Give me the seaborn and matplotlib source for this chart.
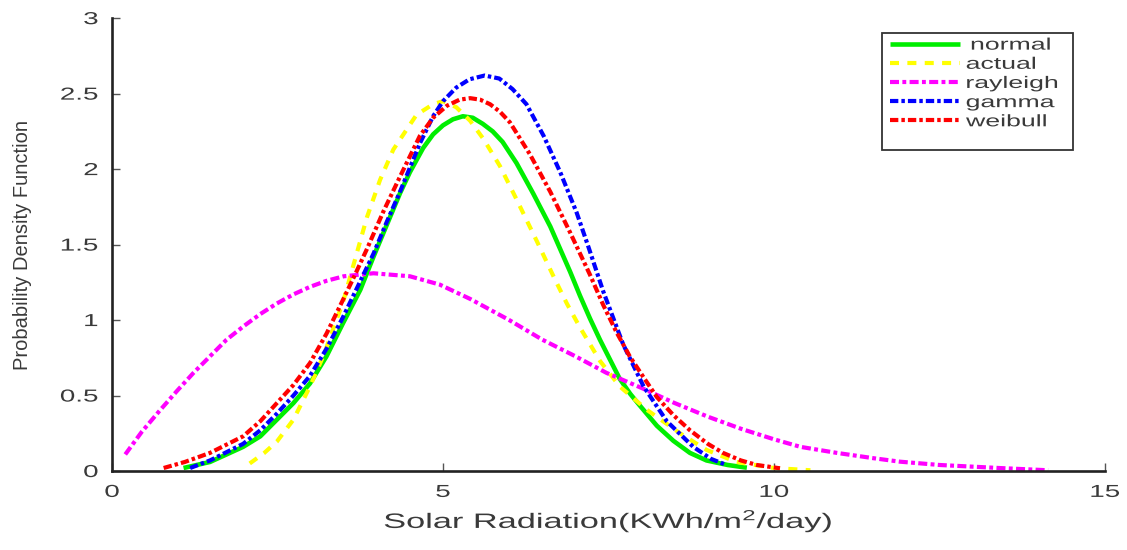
import numpy as np
import pandas as pd
import matplotlib
matplotlib.use("Agg")
import matplotlib.pyplot as plt
import seaborn as sns
from matplotlib.patheffects import AbstractPathEffect
from matplotlib.transforms import Affine2D
from matplotlib.patches import Rectangle

# ---------------- data ----------------
normal_x = [1.08, 1.48, 1.98, 2.24, 2.49, 2.74, 2.99, 3.24, 3.49, 3.75, 3.95, 4.15, 4.35,
            4.5, 4.7, 4.85, 5.0, 5.15, 5.3, 5.45, 5.6, 5.75, 5.9, 6.11, 6.36, 6.62, 6.92,
            7.07, 7.22, 7.37, 7.52, 7.67, 7.83, 7.98, 8.23, 8.48, 8.73, 8.98, 9.3, 9.59]
normal_y = [0.02, 0.06, 0.16, 0.23, 0.34, 0.45, 0.58, 0.76, 0.98, 1.20, 1.42, 1.63, 1.84,
            1.98, 2.14, 2.23, 2.29, 2.33, 2.35, 2.34, 2.30, 2.25, 2.18, 2.04, 1.84, 1.62, 1.32,
            1.16, 1.01, 0.87, 0.74, 0.61, 0.51, 0.43, 0.30, 0.20, 0.12, 0.07, 0.04, 0.022]

actual_x = [2.08, 2.3, 2.49, 2.74, 2.99, 3.19, 3.49, 3.67, 3.85, 4.05, 4.25, 4.6, 4.85, 5.0,
            5.2, 5.41, 5.61, 5.86, 6.11, 6.42, 6.69, 6.87, 7.07, 7.37, 7.67, 8.08, 8.58,
            8.98, 9.43, 10.0, 10.55]
actual_y = [0.05, 0.12, 0.195, 0.34, 0.56, 0.76, 1.12, 1.40, 1.68, 1.93, 2.13, 2.36, 2.43, 2.45,
            2.41, 2.32, 2.20, 2.02, 1.80, 1.52, 1.27, 1.11, 0.95, 0.73, 0.56, 0.405, 0.25,
            0.14, 0.06, 0.02, 0.005]

rayleigh_x = [0.2, 0.45, 0.72, 0.98, 1.23, 1.48, 1.73, 1.99, 2.24, 2.49, 2.74, 2.99, 3.24,
              3.5, 3.95, 4.5, 4.95, 5.41, 6.0, 6.5, 7.0, 7.47, 8.0, 8.5, 9.0, 9.5, 10.0,
              10.4, 10.95, 11.5, 11.9, 12.5, 13.4, 14.14]
rayleigh_y = [0.11, 0.26, 0.40, 0.53, 0.65, 0.76, 0.87, 0.96, 1.04, 1.11, 1.17, 1.22, 1.26,
              1.29, 1.31, 1.29, 1.235, 1.14, 1.0, 0.87, 0.76, 0.65, 0.55, 0.45, 0.36, 0.28,
              0.21, 0.16, 0.12, 0.085, 0.062, 0.04, 0.02, 0.005]

gamma_x = [1.18, 1.48, 1.98, 2.24, 2.49, 2.74, 2.99, 3.24, 3.49, 3.72, 3.95, 4.15, 4.35,
           4.65, 4.85, 5.0, 5.2, 5.4, 5.63, 5.85, 6.05, 6.26, 6.52, 6.77, 7.02, 7.2, 7.42,
           7.72, 8.03, 8.38, 8.78, 9.05, 9.28]
gamma_y = [0.02, 0.07, 0.18, 0.27, 0.38, 0.50, 0.63, 0.81, 1.02, 1.23, 1.44, 1.65, 1.85,
           2.17, 2.35, 2.45, 2.54, 2.595, 2.62, 2.60, 2.53, 2.43, 2.22, 1.98, 1.71, 1.48, 1.19,
           0.84, 0.56, 0.33, 0.16, 0.08, 0.04]

weibull_x = [0.78, 1.1, 1.48, 1.98, 2.24, 2.49, 2.74, 2.99, 3.24, 3.49, 3.67, 3.85, 4.1,
             4.35, 4.65, 4.85, 5.06, 5.25, 5.41, 5.56, 5.71, 5.86, 6.01, 6.31, 6.62, 6.92,
             7.22, 7.42, 7.62, 7.82, 8.03, 8.23, 8.48, 8.73, 9.0, 9.23, 9.5, 9.74, 10.09]
weibull_y = [0.02, 0.06, 0.12, 0.23, 0.33, 0.45, 0.57, 0.715, 0.91, 1.135, 1.30, 1.47, 1.72,
             1.95, 2.22, 2.34, 2.42, 2.46, 2.47, 2.46, 2.43, 2.38, 2.31, 2.10, 1.85, 1.58,
             1.30, 1.10, 0.92, 0.76, 0.62, 0.49, 0.37, 0.27, 0.18, 0.12, 0.07, 0.04, 0.018]

series_names = [" normal", "actual", "rayleigh", "gamma", "weibull"]
x_ticks = [0, 5, 10, 15]
y_ticks = [0, 0.5, 1, 1.5, 2, 2.5, 3]
y_tick_labels = ["0", "0.5", "1", "1.5", "2", "2.5", "3"]
x_label = "Solar Radiation(KWh/m$^2$/day)"
y_label = "Probability Density Function"

# ---------------- style ----------------
sns.set_style("ticks")
plt.rcParams["font.family"] = ["Liberation Sans", "DejaVu Sans"]
plt.rcParams["mathtext.default"] = "regular"
plt.rcParams["lines.scale_dashes"] = False

TEXT_COLOR = "#3a3a3a"
STRETCH = 1.6


class HStretch(AbstractPathEffect):
    """Stretch glyphs horizontally in display space (reference text is wide)."""

    def __init__(self, sx, anchor="center"):
        super().__init__()
        self.sx = sx
        self.anchor = anchor

    def draw_path(self, renderer, gc, tpath, affine, rgbFace=None):
        bb = tpath.get_extents(affine)
        if self.anchor == "left":
            cx = bb.x0
        elif self.anchor == "right":
            cx = bb.x1
        else:
            cx = 0.5 * (bb.x0 + bb.x1)
        extra = Affine2D().translate(-cx, 0).scale(self.sx, 1.0).translate(cx, 0)
        renderer.draw_path(gc, tpath, affine + extra, rgbFace)


fig = plt.figure(figsize=(11.27, 5.5), dpi=100)
ax = fig.add_axes([0.0994, 0.1436, 0.8811, 0.8234])

specs = [
    (normal_x, normal_y, "#00ee00", 3.3, None),
    (actual_x, actual_y, "#ffff00", 3.0, (6.5, 6.0)),
    (rayleigh_x, rayleigh_y, "#ff00ff", 3.0, (6.5, 2.4, 2.8, 2.4)),
    (gamma_x, gamma_y, "#0000ff", 3.0, (6.0, 2.2, 2.5, 2.2)),
    (weibull_x, weibull_y, "#ff0000", 3.0, (6.0, 2.2, 2.5, 2.2)),
]

handles = []
for (xs, ys, col, lw, dash), name in zip(specs, series_names):
    df = pd.DataFrame({"x": xs, "y": ys})
    sns.lineplot(data=df, x="x", y="y", ax=ax, color=col, linewidth=lw,
                 estimator=None, sort=True, label=name)
    ln = ax.lines[-1]
    ln.set_solid_capstyle("butt")
    ln.set_dash_capstyle("butt")
    ln.set_solid_joinstyle("round")
    ln.set_dash_joinstyle("round")
    if dash is not None:
        ln.set_dashes(dash)
    handles.append(ln)

ax.set_xlim(0, 15)
ax.set_ylim(0, 3)
ax.set_xticks(x_ticks)
ax.set_xticklabels([str(t) for t in x_ticks])
ax.set_yticks(y_ticks)
ax.set_yticklabels(y_tick_labels)

sns.despine(ax=ax)
for side in ("left", "bottom"):
    ax.spines[side].set_linewidth(1.9)
    ax.spines[side].set_color("#222222")

ax.tick_params(axis="both", direction="in", length=6, width=1.0, color="#555555",
               labelsize=12.5, labelcolor=TEXT_COLOR, pad=10)

ax.set_xlabel(x_label, fontsize=15, color=TEXT_COLOR, labelpad=6)
ax.set_ylabel(y_label, fontsize=14.5, color=TEXT_COLOR)
ax.yaxis.set_label_coords(-0.081, 0.5)

for lab in ax.get_xticklabels():
    lab.set_path_effects([HStretch(STRETCH, "center")])
for lab in ax.get_yticklabels():
    lab.set_path_effects([HStretch(STRETCH, "right")])
ax.xaxis.label.set_path_effects([HStretch(STRETCH * 1.03, "center")])

# legend: manual frame + frameless legend
leg = ax.legend(handles=handles, labels=series_names, loc="upper left",
                bbox_to_anchor=(0.7835, 0.957), frameon=False, borderpad=0,
                borderaxespad=0, handlelength=4.2, handletextpad=0.36,
                labelspacing=0.25, fontsize=12)
for t in leg.get_texts():
    t.set_color(TEXT_COLOR)
    t.set_path_effects([HStretch(STRETCH, "left")])
ax.add_patch(Rectangle((0.7754, 0.7086), 0.9678 - 0.7754, 0.9669 - 0.7086,
                       transform=ax.transAxes, fill=False, edgecolor="#333333",
                       linewidth=1.3, clip_on=False, zorder=5))

fig.savefig("out.png", dpi=100)
